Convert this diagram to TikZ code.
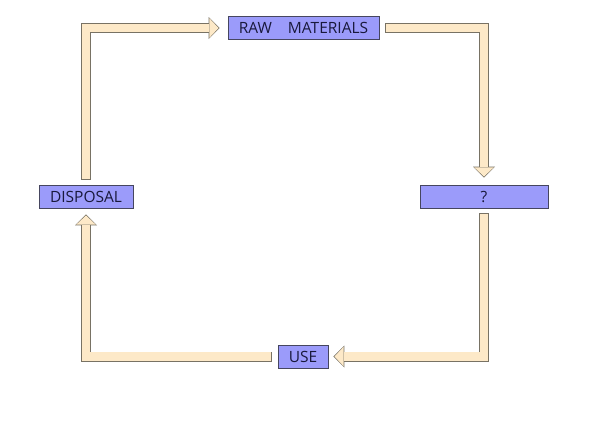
\documentclass[tikz,border=0pt]{standalone}
\usepackage{fontspec}
\setmainfont{Open Sans}
\usetikzlibrary{arrows.meta}
\definecolor{stagefill}{RGB}{155,155,250}
\definecolor{stageline}{RGB}{70,70,95}
\definecolor{stagetext}{RGB}{25,25,60}
\definecolor{flowfill}{RGB}{253,233,200}
\definecolor{flowline}{RGB}{120,114,100}
\tikzset{stage/.style={draw=stageline,fill=stagefill,text=stagetext,line width=0.8pt,rectangle,minimum height=23pt,inner sep=0pt,font=\fontsize{15.5}{15.5}\selectfont}}
\tikzset{flowout/.style={draw=flowline,line width=10pt,-{Triangle[width=22pt,length=11pt,line width=0pt]}}}
\tikzset{flowin/.style={draw=flowfill,line width=8.4pt,-{Triangle[width=19.6pt,length=9.2pt,line width=0pt]}}}

\begin{document}
\begin{tikzpicture}[x=1pt,y=-1pt]
    \useasboundingbox (0,0) rectangle (590,423);
    \node[stage, minimum width=151pt] (raw) at (303.5,28) {RAW\hspace{12pt} MATERIALS};
    \node[stage, minimum width=128pt] (q) at (484,196.5) {?};
    \node[stage, minimum width=50pt] (use) at (303,356.5) {USE};
    \node[stage, minimum width=94pt] (disp) at (86,196.5) {DISPOSAL};
    % outline first, then fill
    \draw[flowout, shorten <=5pt, shorten >=8pt] (disp.north) |- (raw.west);
    \draw[flowin, shorten <=5.8pt, shorten >=9.1pt] (disp.north) |- (raw.west);
    \draw[flowout, shorten <=6pt, shorten >=7pt] (raw.east) -| (q.north);
    \draw[flowin, shorten <=6.8pt, shorten >=8.1pt] (raw.east) -| (q.north);
    \draw[flowout, shorten <=5pt, shorten >=5pt] (q.south) |- (use.east);
    \draw[flowin, shorten <=5.8pt, shorten >=6.1pt] (q.south) |- (use.east);
    \draw[flowout, shorten <=6pt, shorten >=6pt] (use.west) -| (disp.south);
    \draw[flowin, shorten <=6.8pt, shorten >=7.1pt] (use.west) -| (disp.south);
\end{tikzpicture}
\end{document}
